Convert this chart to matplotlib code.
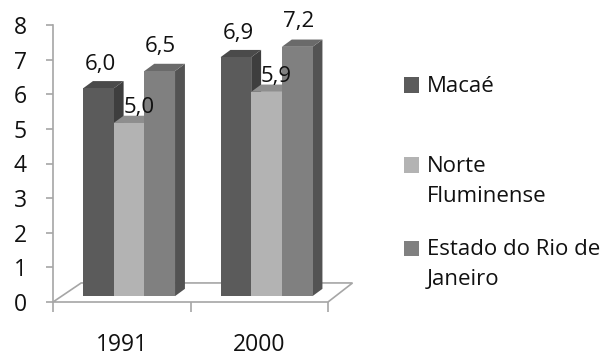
import matplotlib
matplotlib.use("Agg")
import matplotlib.pyplot as plt
from matplotlib.patches import Polygon, Rectangle

plt.rcParams["font.family"] = ["Open Sans", "DejaVu Sans"]

years = ["1991", "2000"]
series = ["Macaé", "Norte\nFluminense", "Estado do Rio de\nJaneiro"]
macae = [6.0, 6.9]
norte = [5.0, 5.9]
estado = [6.5, 7.2]
values = [macae, norte, estado]
labels = [["6,0", "6,9"], ["5,0", "5,9"], ["6,5", "7,2"]]

# front, top, side shades for each series
front_c = ["#5b5b5b", "#b3b3b3", "#808080"]
top_c = ["#4a4a4a", "#8e8e8e", "#6a6a6a"]
side_c = ["#3e3e3e", "#8a8a8a", "#535353"]
txt = "#111111"

W, H = 608, 356
fig = plt.figure(figsize=(W / 100, H / 100), dpi=100)
ax = fig.add_axes([53 / W, (H - 302) / H, (328 - 53) / W, (302 - 25) / H])
ax.set_xlim(-0.5, 1.5)
ax.set_ylim(0, 8)

# 3d projection offsets in data units
shift_x, shift_y = 0.053, 0.17      # bars sit mid-way into the floor
depth_x, depth_y = 0.072, 0.21      # bar depth
floor_x, floor_y = 0.205, 0.55      # floor depth
bw = 0.223

grey = "#a6a6a6"
floor = Polygon([(-0.5, 0), (1.5, 0), (1.5 + floor_x * 0.87, floor_y),
                 (-0.5 + floor_x, floor_y)], closed=True, facecolor="white",
                edgecolor=grey, lw=1.2, clip_on=False, zorder=1)
ax.add_patch(floor)

offsets = [(2, 24), (10, 15), (1, 25)]
for i in range(len(years)):
    for s, vals in enumerate(values):
        v = vals[i]
        x0 = i + shift_x + (s - 1.5) * bw
        x1 = x0 + bw
        y0 = shift_y
        y1 = shift_y + v
        side = Polygon([(x1, y0), (x1 + depth_x, y0 + depth_y),
                        (x1 + depth_x, y1 + depth_y), (x1, y1)],
                       closed=True, facecolor=side_c[s], edgecolor="none",
                       clip_on=False, zorder=2)
        top = Polygon([(x0, y1), (x0 + depth_x, y1 + depth_y),
                       (x1 + depth_x, y1 + depth_y), (x1, y1)],
                      closed=True, facecolor=top_c[s], edgecolor="none",
                      clip_on=False, zorder=2)
        ax.add_patch(side)
        ax.add_patch(top)
        ax.bar(x0, v, width=bw, bottom=y0, align="edge", color=front_c[s],
               edgecolor="none", zorder=2, clip_on=False)
        dx, dy = offsets[s]
        ax.annotate(labels[s][i], (x0 + bw / 2, y1), xytext=(dx, dy),
                    textcoords="offset pixels", ha="center", va="center",
                    fontsize=16, color=txt, zorder=3)

for side_name in ["top", "right", "bottom"]:
    ax.spines[side_name].set_visible(False)
ax.spines["left"].set_color(grey)
ax.spines["left"].set_linewidth(1.2)

ax.set_yticks(range(0, 9))
ax.tick_params(axis="y", length=5, width=1.2, color=grey, pad=14,
               labelsize=16.5, labelcolor=txt)
ax.set_xticks([-0.5, 0.5, 1.5])
ax.set_xticklabels([])
ax.set_xticks([0, 1], minor=True)
ax.set_xticklabels(years, minor=True)
ax.tick_params(axis="x", which="major", length=7, width=1.2, color=grey)
ax.tick_params(axis="x", which="minor", length=0, pad=22, labelsize=16.5,
               labelcolor=txt)

# legend
leg_y = [85, 165, 248]
for s, name in enumerate(series):
    yc = leg_y[s]
    fig.patches.append(Rectangle((404 / W, (H - yc - 7.5) / H), 15 / W, 15 / H,
                                 transform=fig.transFigure, facecolor=front_c[s],
                                 edgecolor="none"))
    fig.text(427 / W, (H - yc + 9) / H, name, ha="left", va="top",
             fontsize=16, color=txt, linespacing=1.55)

fig.savefig("out.png", dpi=100)
